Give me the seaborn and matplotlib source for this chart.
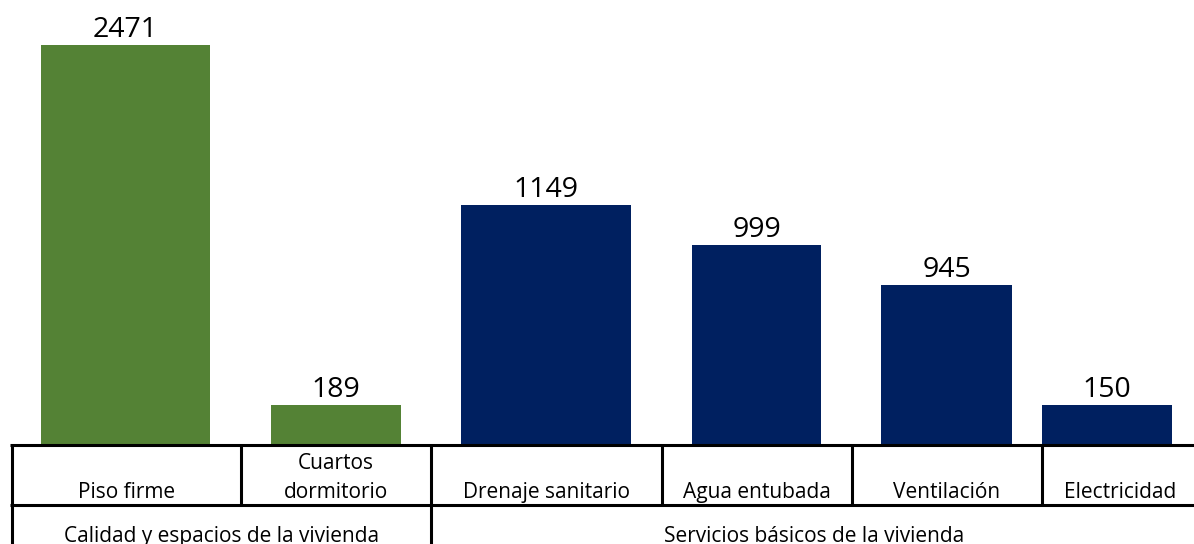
import seaborn as sns
import matplotlib.pyplot as plt
import pandas as pd

# Data
categorias = ["Piso firme", "Cuartos\ndormitorio", "Drenaje sanitario",
              "Agua entubada", "Ventilación", "Electricidad"]
valores = [2471, 189, 1149, 999, 945, 150]
# bar heights as drawn in the picture (bars are not to scale with the labels)
alturas = [10, 1, 6, 5, 4, 1]
grupos = ["Calidad y espacios de la vivienda"] * 2 + ["Servicios básicos de la vivienda"] * 4
colores_grupo = {"Calidad y espacios de la vivienda": "#548235",
                 "Servicios básicos de la vivienda": "#002060"}

df = pd.DataFrame({"categoria": categorias, "altura": alturas,
                   "valor": valores, "grupo": grupos})

# Layout in pixels (x) ; 1 height unit = 40 px
bar_left = [41, 271, 461, 692, 881, 1042]
bar_width = [169, 130, 170, 129, 131, 130]
celdas = [12, 241, 431, 662, 852, 1042, 1198]
cortes_grupo = [12, 431, 1198]
PX = 40.0

sns.set_style("white")
plt.rcParams["font.family"] = ["Open Sans", "DejaVu Sans"]

fig = plt.figure(figsize=(11.94, 5.44), dpi=100)
ax = fig.add_axes([0, 0, 1, 1])

sns.barplot(data=df, x="categoria", y="altura", hue="grupo",
            palette=colores_grupo, dodge=False, legend=False,
            saturation=1, ax=ax, zorder=1)

# put each bar where the reference has it
for p in ax.patches:
    i = int(round(p.get_x() + p.get_width() / 2))
    p.set_x(bar_left[i])
    p.set_width(bar_width[i])
    p.set_linewidth(0)

ax.set_xlim(0, 1194)
ax.set_ylim((445 - 544) / PX, 445 / PX)
ax.axis("off")

lw = 2.2
fila1 = -60 / PX
fondo = (445 - 560) / PX
ax.plot([10, 1200], [0, 0], color="black", lw=lw, zorder=3, solid_capstyle="butt")
ax.plot([10, 1200], [fila1, fila1], color="black", lw=lw, zorder=3, solid_capstyle="butt")
for x in celdas:
    if x in cortes_grupo:
        ax.plot([x, x], [0, fondo], color="black", lw=lw, zorder=3)
    else:
        ax.plot([x, x], [0, fila1], color="black", lw=lw, zorder=3)

# value labels
for i, (v, h) in enumerate(zip(valores, alturas)):
    cx = bar_left[i] + bar_width[i] / 2
    ax.annotate(str(v), (cx, h), xytext=(0, 6), textcoords="offset points",
                ha="center", va="baseline", fontsize=20.5, color="black")

# category labels
paso = 29 / PX
for i, cat in enumerate(categorias):
    cx = (celdas[i] + celdas[i + 1]) / 2
    lineas = cat.split("\n")
    for k, linea in enumerate(reversed(lineas)):
        ax.text(cx, -53 / PX + k * paso, linea, ha="center", va="baseline",
                fontsize=15, color="black")

# group labels
nombres = list(dict.fromkeys(grupos))
for j, g in enumerate(nombres):
    cx = (cortes_grupo[j] + cortes_grupo[j + 1]) / 2
    ax.text(cx, -97 / PX, g, ha="center", va="baseline", fontsize=15, color="black")

fig.savefig("out.png", dpi=100)
plt.close(fig)
